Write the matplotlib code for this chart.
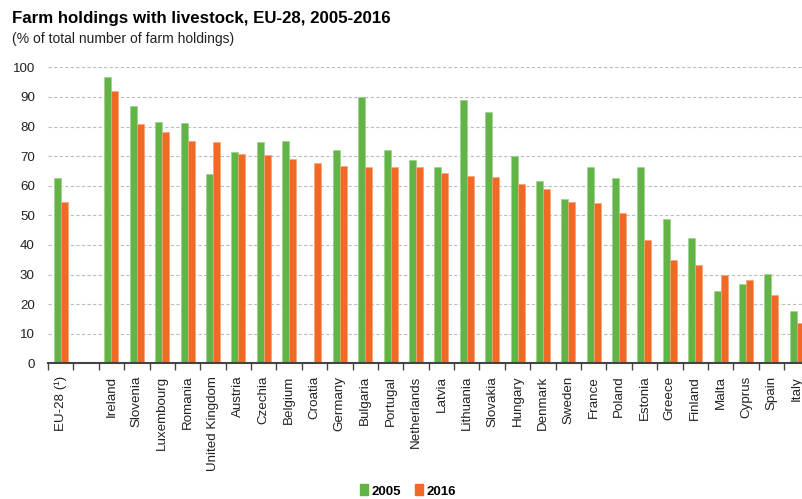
import numpy as np
import matplotlib
matplotlib.use("Agg")
import matplotlib.pyplot as plt
from matplotlib.patches import Patch

plt.rcParams['font.family'] = ['Liberation Sans', 'DejaVu Sans']

# data (% of total number of farm holdings)
countries = ["EU-28 (¹)", "", "Ireland", "Slovenia", "Luxembourg", "Romania",
             "United Kingdom", "Austria", "Czechia", "Belgium", "Croatia",
             "Germany", "Bulgaria", "Portugal", "Netherlands", "Latvia",
             "Lithuania", "Slovakia", "Hungary", "Denmark", "Sweden", "France",
             "Poland", "Estonia", "Greece", "Finland", "Malta", "Cyprus",
             "Spain", "Italy"]
y2005 = [62.5, np.nan, 96.6, 86.8, 81.4, 81.1, 63.9, 71.4, 74.7, 75.0, np.nan,
         72.2, 89.9, 72.2, 68.6, 66.4, 89.0, 84.8, 69.9, 61.7, 55.6, 66.4,
         62.5, 66.4, 48.8, 42.3, 24.4, 26.9, 30.1, 17.6]
y2016 = [54.5, np.nan, 91.9, 80.7, 78.3, 75.0, 74.7, 70.6, 70.3, 68.9, 67.8,
         66.8, 66.3, 66.3, 66.4, 64.2, 63.2, 62.8, 60.7, 58.8, 54.5, 54.2,
         50.9, 41.6, 34.8, 33.3, 29.8, 28.3, 23.0, 13.6]
years = ["2005", "2016"]
yticks = list(range(0, 101, 10))

GREEN = "#62B446"
ORANGE = "#F06A26"

fig = plt.figure(figsize=(8.02, 4.99), dpi=100)
# axes run past the right edge of the figure, Italy is cut off as in the original
ax = fig.add_axes([48 / 802, 135.7 / 499, 761.4 / 802, 296 / 499])

x = np.arange(len(countries))
w = 0.275
ax.bar(x - w / 2, y2005, width=w, color=GREEN, edgecolor="#9BD389", linewidth=0.5, zorder=3)
ax.bar(x + w / 2, y2016, width=w, color=ORANGE, edgecolor="#F7A27A", linewidth=0.5, zorder=3)

ax.set_xlim(-0.5, len(countries) - 0.5)
ax.set_ylim(0, 100)
ax.set_yticks(yticks)
ax.yaxis.grid(True, linestyle=(0, (3, 2)), color="#BDBDBD", linewidth=0.8, zorder=0)
ax.tick_params(axis="y", length=0, labelsize=9.6, pad=9.5, labelcolor="#222222")

ax.set_xticks(x)
ax.set_xticklabels(countries, rotation=90, fontsize=9.6, color="#222222")
ax.tick_params(axis="x", which="major", length=0, pad=9)
ax.set_xticks(np.arange(-0.5, len(countries)), minor=True)
ax.tick_params(axis="x", which="minor", length=5, width=1, color="#444444", direction="out")

for s in ["top", "right", "left"]:
    ax.spines[s].set_visible(False)
ax.spines["bottom"].set_color("#444444")
ax.spines["bottom"].set_linewidth(1.5)
ax.spines["bottom"].set_zorder(4)

fig.text(12 / 802, 1 - 19 / 499, "Farm holdings with livestock, EU-28, 2005-2016",
         fontsize=12.2, fontweight="bold", va="center", ha="left")
fig.text(12 / 802, 1 - 39 / 499, "(% of total number of farm holdings)",
         fontsize=10, va="center", ha="left", color="#222222")

handles = [Patch(color=GREEN), Patch(color=ORANGE)]
fig.legend(handles, years, loc="center", bbox_to_anchor=(408 / 802, 1 - 491 / 499),
           ncol=2, frameon=False, prop={"weight": "bold", "size": 9.5},
           handlelength=0.6, handleheight=0.9, handletextpad=0.3, columnspacing=1.0,
           borderpad=0)

fig.savefig("out.png", dpi=100)
